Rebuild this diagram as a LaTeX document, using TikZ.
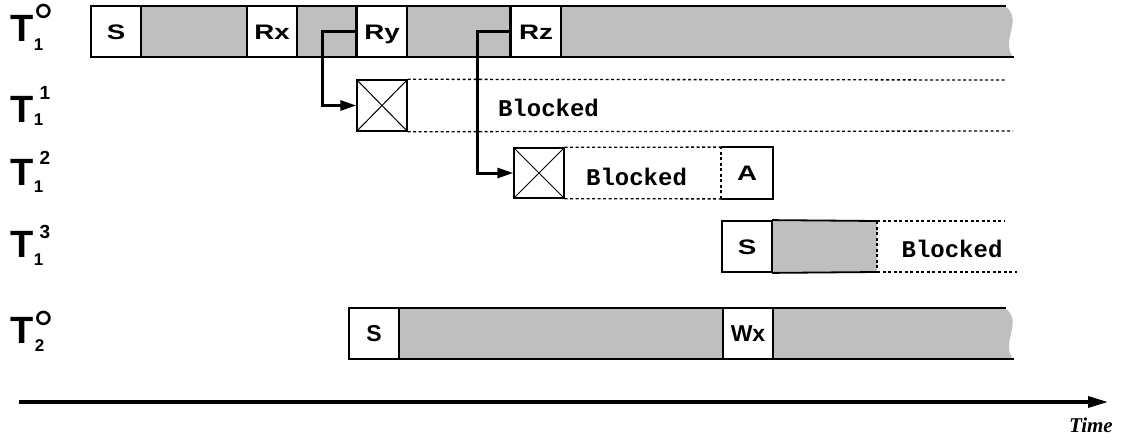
\documentclass[tikz,border=0pt]{standalone}
\usepackage{fontspec}
\setmainfont{Liberation Sans}
\newfontfamily\widefont{Liberation Sans}[FakeStretch=1.32]
\newfontfamily\codefont{Liberation Mono}
\newfontfamily\timefont{Liberation Serif}
\usetikzlibrary{arrows.meta}

\definecolor{busy}{RGB}{191,191,191}

\begin{document}
\begin{tikzpicture}[x=1pt,y=-1pt,
  opbox/.style={draw=black, line width=1.8pt, fill=white, minimum width=50pt,
    minimum height=51pt, inner sep=0pt, text height=15pt, text depth=0pt,
    font=\widefont\fontsize{21}{21}\selectfont\bfseries},
  opboxtall/.style={opbox, text height=16.5pt, font=\fontsize{23}{23}\selectfont\bfseries},
  xbox/.style={draw=black, line width=1.4pt, fill=white, minimum width=50pt,
    minimum height=51pt, inner sep=0pt},
  edge/.style={line width=1.8pt, line cap=rect},
  waitline/.style={line width=1.3pt, dash pattern=on 3pt off 2.5pt},
  waittext/.style={font=\codefont\fontsize{24}{24}\selectfont\bfseries, inner sep=0pt},
  spawn/.style={line width=3pt, -{Triangle[length=16pt,width=10pt]}},
  tname/.style={font=\fontsize{38}{38}\selectfont\bfseries, inner sep=0pt},
  tsub/.style={font=\fontsize{17}{17}\selectfont\bfseries, inner sep=0pt},
  tsup/.style={font=\fontsize{19}{19}\selectfont\bfseries, inner sep=0pt},
  tdeg/.style={font=\fontsize{52}{52}\selectfont, inner sep=0pt, anchor=base},
]
\useasboundingbox (0,0) rectangle (1121,442);

% ---------- thread labels ----------
\node[tname] (L0) at (22.5,28.5) {T};
\node[tsub]  (L0s) at (38.5,44.5) {1};
\node[tdeg]  (L0d) at (43.5,40) {\smash{°}};

\node[tname] (L1) at (22.5,109) {T};
\node[tsub]  (L1s) at (38.5,120) {1};
\node[tsup]  (L1d) at (45,93) {1};

\node[tname] (L2) at (22.5,172.5) {T};
\node[tsub]  (L2s) at (38.5,186.5) {1};
\node[tsup]  (L2d) at (45,157.5) {2};

\node[tname] (L3) at (22.5,244) {T};
\node[tsub]  (L3s) at (38.5,260) {1};
\node[tsup]  (L3d) at (45,231.5) {3};

\node[tname] (L4) at (22.5,330) {T};
\node[tsub]  (L4s) at (39.5,345.5) {2};
\node[tdeg]  (L4d) at (43.5,347) {\smash{°}};

% ---------- T1 main thread ----------
\fill[busy] (91,6) -- (1005,6) .. controls (1024,20) and (1000,40) .. (1013,57) -- (91,57) -- cycle;
\draw[edge] (91,6) -- (1005,6);
\draw[edge] (91,57) -- (1013,57);
\node[opbox] (S1) at (116,31.5) {S};
\node[opbox] (Rx) at (272,31.5) {Rx};
\node[opbox] (Ry) at (382,31.5) {Ry};
\node[opbox] (Rz) at (536,31.5) {Rz};
\draw[line width=3pt] (Ry.north west) -- (Ry.south west);
\draw[line width=3pt] (Rz.north west) -- (Rz.south west);

% ---------- T1^1 : blocked child ----------
\node[xbox] (X1) at (382,105.5) {};
\draw[line width=1pt] (X1.north west) -- (X1.south east) (X1.south west) -- (X1.north east);
\draw[waitline] (X1.north east) -- (1005,80);
\draw[waitline] (X1.south east) -- (1013,131);
\node[waittext] (B1) at (548.5,107.5) {Blocked};

% ---------- T1^2 : blocked child, then abort ----------
\node[xbox, minimum height=50pt] (X2) at (539,173) {};
\draw[line width=1pt] (X2.north west) -- (X2.south east) (X2.south west) -- (X2.north east);
\node[opbox, draw=none, minimum height=50pt] (A) at (747,173) {A};
\draw[edge, line cap=butt] (A.north west) -- (A.north east) -- (A.south east) -- (A.south west);
\draw[waitline] (X2.north east) -- (A.north west);
\draw[waitline] (X2.south east) -- (A.south west);
\draw[waitline] (A.south west) -- (A.north west);
\node[waittext] (B2) at (636.5,177) {Blocked};

% ---------- T1^3 : restarted child ----------
\node[opbox] (S3) at (747,246.5) {S};
\fill[busy] (S3.north east) rectangle (877,272);
\draw[edge] (S3.north east) -- (877,221);
\draw[edge] (S3.south east) -- (877,272);
\draw[waitline] (877,221) -- (877,272);
\draw[waitline] (877,221) -- (1005,221);
\draw[waitline] (877,272) -- (1017,272);
\node[waittext] (B3) at (952,249) {Blocked};

% ---------- T2 main thread ----------
\fill[busy] (349,308) -- (1005,308) .. controls (1024,322) and (1000,342) .. (1013,359) -- (349,359) -- cycle;
\draw[edge] (349,308) -- (1005,308);
\draw[edge] (349,359) -- (1013,359);
\node[opboxtall] (S4) at (374,333.5) {S};
\node[opboxtall] (Wx) at (748,333.5) {Wx};

% ---------- spawn arrows ----------
\draw[spawn] (Ry.west) -- ++(-34,0) |- (X1.west);
\draw[spawn] (Rz.west) -- ++(-33,0) |- (X2.west);

% ---------- time axis ----------
\coordinate (t0) at (19,402);
\coordinate (t1) at (1108,402);
\draw[line width=3.3pt, -{Triangle[length=20pt,width=11pt]}] (t0) -- (t1);
\node[font=\timefont\fontsize{21}{21}\selectfont\bfseries\itshape, inner sep=0pt] (time) at (1091,425) {Time};
\end{tikzpicture}
\end{document}
